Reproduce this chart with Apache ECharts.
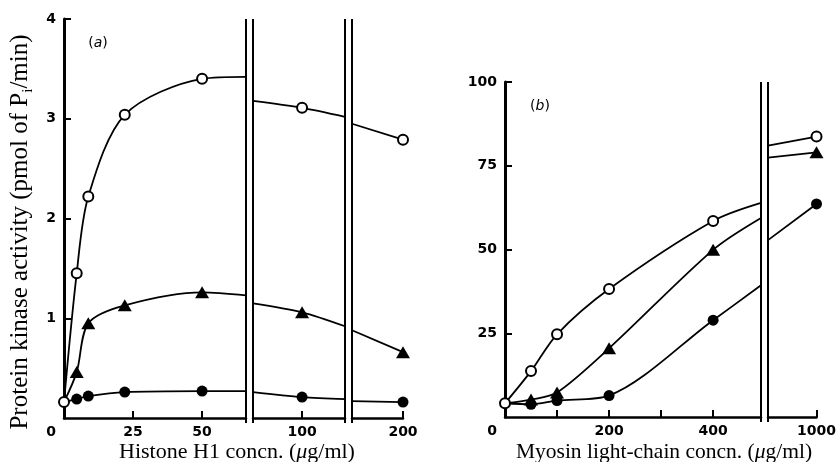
<!DOCTYPE html>
<html>
<head>
<meta charset="utf-8">
<script src="https://cdn.jsdelivr.net/npm/echarts@6.0.0/dist/echarts.min.js"></script>
<style>
html,body{margin:0;padding:0;background:#fff;}
#chart{width:839px;height:462px;}
</style>
</head>
<body>
<div id="chart"></div>
<script>
// ---------- data ----------
// Panel (a): Histone H1 concn. (ug/ml)
const xA = [0, 4.6, 8.8, 22, 50, 100, 200];
const openA = [0.16, 1.45, 2.22, 3.04, 3.40, 3.11, 2.79];
const triA = [0.16, 0.46, 0.95, 1.13, 1.26, 1.06, 0.66];
const filledA = [0.16, 0.19, 0.22, 0.26, 0.27, 0.21, 0.16];
// curve heights where the curves meet the axis breaks: [seg1 right, seg2 left, seg2 right, seg3 left]
const edgeOpenA = [3.42, 3.18, 3.02, 2.95];
const edgeTriA = [1.23, 1.15, 0.92, 0.88];
const edgeFilledA = [0.27, 0.26, 0.19, 0.17];
// x ranges of the three axis segments
const segA = [[0, 65.9], [52, 142], [150, 200]];
const tickA = [[25, 50], [100], [200]];
const labelA = [[0, 25, 50], [100], [200]];
const yTickA = [1, 2, 3, 4];

// Panel (b): Myosin light-chain concn. (ug/ml)
const xB = [0, 50, 100, 200, 400, 1000];
const openB = [4.1, 13.7, 24.7, 38.2, 58.5, 83.7];
const triB = [4.1, 5.2, 7.3, 20.5, 49.9, 79.0];
const filledB = [4.1, 3.8, 4.9, 6.4, 28.9, 63.6];
const edgeOpenB = [63.9, 81.0];
const edgeTriB = [59.4, 77.4];
const edgeFilledB = [39.3, 52.8];
const segB = [[0, 492], [900, 1000]];
const tickB = [[100, 200, 300, 400], [1000]];
const labelB = [[0, 200, 400], [1000]];
const yTickB = [25, 50, 75, 100];

// ---------- layout ----------
const gridsA = [{left: 64, width: 182}, {left: 253, width: 92}, {left: 352, width: 51}];
const gridsB = [{left: 505, width: 256}, {left: 768, width: 50}];
const topA = 19, heightA = 399, topB = 82, heightB = 335;

const SANS = 'DejaVu Sans';
const SERIF = 'Liberation Serif';
const tickFont = {fontFamily: SANS, fontSize: 14, fontWeight: 'bold', color: '#000'};

const chart = echarts.init(document.getElementById('chart'), null, {renderer: 'canvas'});

const grid = [], xAxis = [], yAxis = [], series = [];

function segData(xs, ys, edges, segs, hideFirst) {
  return segs.map((s, k) => {
    const out = [];
    if (k > 0) out.push({value: [s[0], edges[2 * k - 1]], symbol: 'none'});
    xs.forEach((x, i) => {
      if (x >= s[0] && x <= s[1]) {
        out.push(i === 0 && hideFirst ? {value: [x, ys[i]], symbol: 'none'} : {value: [x, ys[i]]});
      }
    });
    if (k < segs.length - 1) out.push({value: [s[1], edges[2 * k]], symbol: 'none'});
    return out;
  });
}

const styles = {
  open: {symbol: 'circle', symbolSize: 10, itemStyle: {color: '#fff', borderColor: '#000', borderWidth: 2}, z: 5},
  tri: {symbol: 'triangle', symbolSize: [14, 12], itemStyle: {color: '#000', borderWidth: 0}, z: 3},
  filled: {symbol: 'circle', symbolSize: 11, itemStyle: {color: '#000', borderWidth: 0}, z: 4}
};

function addPanel(grids, top, height, segs, ticks, labels, ymax, yTicks, seriesDefs) {
  const base = grid.length;
  grids.forEach((g, k) => {
    const gi = base + k;
    grid.push({left: g.left, width: g.width, top: top, height: height, containLabel: false});
    xAxis.push({
      gridIndex: gi, type: 'value', min: segs[k][0], max: segs[k][1],
      axisLine: {show: true, onZero: false, lineStyle: {color: '#000', width: 2.5}},
      axisTick: {show: true, inside: true, length: 7, lineStyle: {color: '#000', width: 2}, customValues: ticks[k]},
      axisLabel: {
        show: true, margin: 7, customValues: labels[k],
        formatter: v => v === 0 ? '{z|0}' : String(v),
        ...tickFont,
        rich: {z: {...tickFont, padding: [0, 26, 0, 0]}}
      },
      splitLine: {show: false}
    });
    yAxis.push({
      gridIndex: gi, type: 'value', min: 0, max: ymax, show: k === 0,
      axisLine: {show: true, onZero: false, lineStyle: {color: '#000', width: 3}},
      axisTick: {show: true, inside: true, length: 7, lineStyle: {color: '#000', width: 2}, customValues: yTicks},
      axisLabel: {show: true, margin: 8, customValues: yTicks, ...tickFont},
      splitLine: {show: false}
    });
  });
  seriesDefs.forEach(d => {
    const parts = segData(d.xs, d.ys, d.edges, segs, d.hideFirst);
    parts.forEach((data, k) => {
      const st = styles[d.kind];
      series.push({
        type: 'line', xAxisIndex: base + k, yAxisIndex: base + k,
        data: data, smooth: 0.3,
        symbol: st.symbol, symbolSize: st.symbolSize, showSymbol: true, showAllSymbol: true,
        itemStyle: st.itemStyle, z: st.z, clip: false,
        lineStyle: {color: '#000', width: 1.8},
        emphasis: {disabled: true}, silent: true
      });
    });
  });
}

addPanel(gridsA, topA, heightA, segA, tickA, labelA, 4, yTickA, [
  {kind: 'filled', xs: xA, ys: filledA, edges: edgeFilledA, hideFirst: true},
  {kind: 'tri', xs: xA, ys: triA, edges: edgeTriA, hideFirst: true},
  {kind: 'open', xs: xA, ys: openA, edges: edgeOpenA, hideFirst: false}
]);
addPanel(gridsB, topB, heightB, segB, tickB, labelB, 100, yTickB, [
  {kind: 'filled', xs: xB, ys: filledB, edges: edgeFilledB, hideFirst: true},
  {kind: 'tri', xs: xB, ys: triB, edges: edgeTriB, hideFirst: true},
  {kind: 'open', xs: xB, ys: openB, edges: edgeOpenB, hideFirst: false}
]);

const graphic = [
  {
    type: 'text', x: 20, y: 232, rotation: Math.PI / 2, silent: true,
    style: {
      text: 'Protein kinase activity (pmol of P{sub|i}/min)',
      fontFamily: SERIF, fontSize: 25, lineHeight: 31, fill: '#000', align: 'center', verticalAlign: 'middle',
      rich: {sub: {fontFamily: SERIF, fontSize: 15, verticalAlign: 'bottom', fill: '#000'}}
    }
  },
  {
    type: 'text', x: 237, y: 452, silent: true,
    style: {
      text: 'Histone H1 concn. ({it|\u03bc}g/ml)',
      fontFamily: SERIF, fontSize: 22, fill: '#000', align: 'center', verticalAlign: 'middle',
      rich: {it: {fontFamily: SERIF, fontSize: 22, fontStyle: 'italic', fill: '#000'}}
    }
  },
  {
    type: 'text', x: 664, y: 452, silent: true,
    style: {
      text: 'Myosin light-chain concn. ({it|\u03bc}g/ml)',
      fontFamily: SERIF, fontSize: 21.5, fill: '#000', align: 'center', verticalAlign: 'middle',
      rich: {it: {fontFamily: SERIF, fontSize: 21.5, fontStyle: 'italic', fill: '#000'}}
    }
  },
  {
    type: 'text', x: 98, y: 43, silent: true,
    style: {
      text: '({it|a})', fontFamily: SANS, fontSize: 14, fill: '#000', align: 'center', verticalAlign: 'middle',
      rich: {it: {fontFamily: SANS, fontSize: 14, fontStyle: 'italic', fill: '#000'}}
    }
  },
  {
    type: 'text', x: 540, y: 106, silent: true,
    style: {
      text: '({it|b})', fontFamily: SANS, fontSize: 14, fill: '#000', align: 'center', verticalAlign: 'middle',
      rich: {it: {fontFamily: SANS, fontSize: 14, fontStyle: 'italic', fill: '#000'}}
    }
  }
];

chart.setOption({
  animation: false,
  backgroundColor: '#fff',
  grid, xAxis, yAxis, series, graphic
});

// axis-break double lines, positioned from the library's own scales
function breakLines(first, count, ymax) {
  const out = [];
  for (let k = 0; k < count - 1; k++) {
    const a = first + k, b = first + k + 1;
    const xL = chart.convertToPixel({xAxisIndex: a}, xAxis[a].max);
    const xR = chart.convertToPixel({xAxisIndex: b}, xAxis[b].min);
    const yTop = chart.convertToPixel({yAxisIndex: a}, ymax);
    const yBot = chart.convertToPixel({yAxisIndex: a}, 0) + 5;
    [xL, xR].forEach(x => out.push({
      type: 'line', silent: true, z: 10,
      shape: {x1: x, y1: yTop, x2: x, y2: yBot},
      style: {stroke: '#000', lineWidth: 2}
    }));
  }
  return out;
}
chart.setOption({graphic: graphic.concat(breakLines(0, 3, 4), breakLines(3, 2, 100))});
</script>
</body>
</html>
